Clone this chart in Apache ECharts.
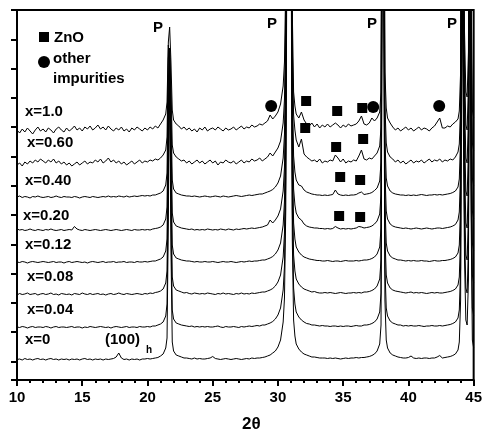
<!DOCTYPE html>
<html><head><meta charset="utf-8">
<script src="https://cdn.jsdelivr.net/npm/echarts@6/dist/echarts.min.js"></script>
<style>html,body{margin:0;padding:0;background:#fff}#c{width:485px;height:431px}</style>
</head><body><div id="c"></div>
<script>
// 2-theta sampling positions (degrees)
const twoTheta = [
 10.0,10.2,10.4,10.6,10.8,11.0,11.2,11.4,11.6,11.8,
 12.0,12.2,12.4,12.6,12.8,13.0,13.2,13.4,13.6,13.8,
 14.0,14.2,14.4,14.6,14.8,15.0,15.2,15.4,15.6,15.8,
 16.0,16.2,16.4,16.6,16.8,17.0,17.2,17.4,17.6,17.8,
 18.0,18.2,18.4,18.6,18.8,19.0,19.2,19.4,19.6,19.8,
 20.0,20.2,20.4,20.6,20.8,21.0,21.2,
 21.4,21.5,21.6,21.7,21.8,21.9,22.0,22.2,
 22.4,22.6,22.8,23.0,23.2,23.4,23.6,23.8,24.0,24.2,
 24.4,24.6,24.8,25.0,25.2,25.4,25.6,25.8,26.0,26.2,
 26.4,26.6,26.8,27.0,27.2,27.4,27.6,27.8,28.0,28.2,
 28.4,28.6,28.8,29.0,29.2,29.4,29.6,29.8,
 30.0,30.2,30.4,30.5,30.6,30.7,30.8,30.9,31.0,31.1,31.2,31.3,31.4,31.6,
 31.8,32.0,32.2,32.4,32.6,32.8,33.0,33.2,33.4,33.6,
 33.8,34.0,34.2,34.4,34.6,34.8,35.0,35.2,35.4,35.6,
 35.8,36.0,36.2,36.4,36.6,36.8,37.0,37.2,37.4,
 37.6,37.8,37.9,38.0,38.1,38.2,38.3,38.4,38.6,
 38.8,39.0,39.2,39.4,39.6,39.8,40.0,40.2,40.4,40.6,
 40.8,41.0,41.2,41.4,41.6,41.8,42.0,42.2,42.4,42.6,
 42.8,43.0,43.2,43.4,43.6,
 43.8,43.9,44.0,44.1,44.2,44.3,44.4,44.5,44.6,44.7,44.8,44.9,45.0
];

const traceNames = ['x=0','x=0.04','x=0.08','x=0.12','x=0.20','x=0.40','x=0.60','x=1.0'];
// vertical stacking offsets (a.u.)
const traceOffsets = [20,52,85,117,149,182,215,248];

const i_x0 = [
 0.5,1,0,1.5,0.5,1,0,1,1.5,0.5,
 1,0,1,1.5,0.5,1,0,1,0.5,1,
 0,1,0.5,1,0,1,1.5,0.5,1,0,
 1,0.5,1,0,1,0.5,1,1.5,3,7,
 2,0.5,1,0,1,0.5,1,0,1,1,
 1.5,1,1.5,2,2.5,4,6,
 12,22,140,300,110,18,9,5,
 4,3,2,2,1.5,1,2,1,1.5,1,
 1,1.5,2,3.5,1.5,1,0.5,1,1.5,1,
 0.5,1,1.5,1,0.5,1,1.5,1,2,1.5,
 2,2,2.5,3,4,5,7,9,
 13,20,38,62,150,450,600,600,450,120,40,24,16,11,
 8,6,5,4,3,3,2.5,2,2,2,
 1.5,2,1.5,2,1.5,1,1.5,2,1.5,2,
 2,2.5,2,2.5,2.5,3,3.5,4.5,6,
 9,16,35,450,400,60,20,12,7,
 5,4,3,2.5,2,2,2.5,4,2,1.5,
 2,1.5,2,2,1.5,2,2,3,4.5,2,
 2.5,3,3.5,4.5,6,
 10,18,60,400,400,100,40,35,80,500,150,20,12
];
const i_x004 = [
 1,0.5,1.5,1,0,1,1.5,0.5,1,1,
 0.5,1.5,1,0,1,1.5,0.5,1,1,0.5,
 1,1.5,0.5,1,1,0,1,0.5,1.5,1,
 0.5,1,1.5,1,0.5,1,0,1,1.5,1,
 0.5,1,1.5,0.5,1,1,0.5,1.5,1,1,
 1.5,1,2,2,3,4,6,
 12,24,150,270,110,18,9,5,
 4,3,2.5,2,1.5,2,1,1.5,1,1.5,
 1,1.5,1,1,1.5,2,1,0.5,1.5,1,
 1,1.5,1,0.5,1.5,1,1.5,2,1.5,2,
 2.5,2,3,3,4,5,6.5,9,
 13,20,38,62,150,450,600,600,450,120,40,24,16,11,
 8,6,4.5,4,3,3,2.5,2,2.5,2,
 2,1.5,2,2,1.5,2,1.5,2,2,1.5,
 2,2.5,2,2,3,3,3.5,4.5,6,
 9,16,35,450,400,60,20,12,7,
 5,4,3,3,2,2.5,2,2.5,2,2,
 2.5,2,1.5,2,2,2.5,2,2,2.5,2,
 2.5,3,3.5,4.5,6,
 10,18,60,400,400,100,40,35,80,500,150,20,12
];
const i_x008 = [
 0,1.5,0.5,1,2,0.5,1,1.5,0,1,
 1.5,0.5,1,2,0.5,1,0,1.5,1,0.5,
 1,0,1.5,1,0.5,2,1,0.5,1.5,0.5,
 1,1.5,0.5,1,0,1,1.5,0.5,1,2,
 1,0.5,1.5,1,0.5,1,1.5,1,0.5,1.5,
 1,2,1.5,2.5,3,4,6,
 12,24,150,240,110,18,9,5,
 4,3,2,2.5,1.5,1,2,1.5,1,1.5,
 1,2,1.5,1,0.5,1.5,1,2,1,1.5,
 1,0.5,1.5,1,2,1,1.5,1,2,1.5,
 2,2.5,3,3,4,5,6.5,9,
 13,20,38,62,150,450,600,600,450,120,40,24,16,11,
 8,6,5,4,3,3.5,2.5,2,2,2.5,
 2,2.5,2,1.5,2,2.5,2,1.5,2,2,
 2.5,2,2.5,2,3,3,3.5,4.5,6,
 9,16,35,450,400,60,20,12,7,
 5,4,3.5,3,2.5,2,2.5,3,2,2.5,
 2,2.5,2,1.5,2,2.5,2,2.5,2,2,
 2.5,3,3.5,4.5,6,
 10,18,60,400,400,100,40,35,80,500,150,20,12
];
const i_x012 = [
 1,0.5,1.5,1,0,1,1.5,1,0.5,1,
 1.5,1,0.5,1,1.5,0.5,1,1,0,1,
 1.5,0.5,1,1.5,1,0.5,1,0,1,1.5,
 1,0.5,1,1.5,0.5,1,1,1.5,0.5,1,
 1,1.5,0.5,1,1,0.5,1.5,1,1,1.5,
 1,1.5,2,2,3,4,6,
 12,24,150,210,110,18,9,5,
 4,3,2.5,2,2,1.5,1,1.5,1,1,
 1.5,1,1,1.5,1,0.5,1,1.5,1,1,
 1.5,1,0.5,1,1.5,1,1.5,2,1.5,2,
 2,2.5,3,3,4,5,6.5,9,
 13,20,38,62,150,450,600,600,450,120,40,24,16,11,
 8,6,5,4,3.5,3,2.5,2.5,2,2,
 2.5,2,1.5,2,2,1.5,2,2.5,2,2,
 2,2.5,2,2.5,3,3,3.5,4.5,6,
 9,16,35,450,400,60,20,12,7,
 5,4,3,3,2.5,2,2.5,2,2.5,2,
 2,2.5,2,2,1.5,2,2.5,2,2,2.5,
 2.5,3,3.5,4.5,6,
 10,18,60,400,400,100,40,35,80,500,150,20,12
];
const i_x020 = [
 2,1,1.5,0.5,1,2,1,0.5,1.5,1,
 0.5,1.5,1,2,1,0.5,1,1.5,0.5,1,
 1.5,1,4.5,2,1,0.5,1.5,1,0.5,1,
 1.5,1,0.5,1,1.5,1,0.5,1,1.5,1,
 0.5,1,1.5,1,0.5,1.5,1,1,1.5,1,
 1.5,1,2,2.5,3,4,6,
 12,24,150,180,100,18,9,5,
 4,3,2.5,2,1.5,2,1,1.5,1,1.5,
 1,2,1.5,1,1.5,1,2,1.5,1,2,
 1.5,1,2,1.5,2,2.5,2,2.5,3,2.5,
 3,3.5,4,5,6,11,8,11,
 15,22,40,64,150,450,600,600,450,120,42,26,18,13,
 11,7,5,4,3.5,3,3,2.5,2.5,2,
 2.5,2,2.5,4.5,3,2,2.5,2,2.5,2,
 2.5,3,4.5,4,3,3.5,4,5,7,
 10,17,36,450,400,60,20,12,7,
 5,4,3.5,3,2.5,3,2.5,2,2.5,3,
 2.5,2,2.5,3,2.5,2,2.5,3,3,2.5,
 3,3.5,4,5,6.5,
 11,19,60,400,400,100,40,35,80,500,150,20,12
];
const i_x040 = [
 1,2,0.5,1.5,1,0,1.5,1,2,1,
 0.5,1,1.5,0.5,1,2,1,0.5,1.5,1,
 1,0.5,1.5,1,0,1,1.5,1,0.5,1.5,
 1,0.5,1,1.5,1,2,1,1.5,1,2,
 1.5,1,2,1,1.5,2,1.5,2,2.5,2,
 2.5,2,3,3,4,5,7,
 13,25,140,150,90,18,9,5,
 4,3,2.5,2,2,1.5,2,1.5,1,1.5,
 2,1.5,1,1.5,2,1.5,1,2,1.5,1,
 1.5,2,2.5,2,1.5,2,2.5,3,2.5,3,
 3.5,4,4,5,6,7,8.5,11,
 15,22,40,64,150,450,600,600,450,120,42,26,18,13,
 12,8,6,5,4,3.5,3,3,2.5,3,
 2.5,3,3.5,8,4,3,2.5,3,2.5,3,
 3,3.5,5,6,3.5,4,4.5,5.5,7.5,
 10,17,36,450,400,60,20,12,7,
 5,4,3.5,3,3,2.5,3,2.5,3,2.5,
 3,3.5,3,2.5,3,3,3.5,3,3.5,3,
 3.5,4,4.5,5.5,7,
 11,19,60,400,400,100,40,35,80,500,150,20,12
];
const i_x060 = [
 0,2,-1,3,1,4,2,5,3,6,
 4,2,5,3,6,2,4,1,3,0,
 2,-1,1,3,0,2,4,1,3,2,
 5,3,6,2,4,7,3,5,2,4,
 1,3,0,2,4,1,3,5,2,4,
 3,5,4,6,5,7,10,
 15,28,120,120,80,20,12,8,
 6,4,5,2,4,1,3,5,2,4,
 1,3,5,2,4,0,3,2,5,3,
 2,4,1,3,5,2,4,3,6,4,
 5,7,4,6,8,12,9,13,
 17,24,42,66,150,450,600,600,450,120,50,35,25,18,
 26,11,8,6,4,5,3,6,2,4,
 3,5,4,10,7,3,6,2,4,3,
 5,4,9,15,6,5,7,6,9,
 12,19,38,450,400,60,22,13,8,
 6,3,5,2,4,1,3,5,2,4,
 3,5,2,4,6,3,5,4,6,3,
 5,4,6,5,8,
 13,21,60,400,400,100,40,35,80,500,150,22,14
];
const i_x100 = [
 2,-1,3,0,4,1,-2,2,5,1,
 3,0,4,2,-1,3,5,2,0,4,
 1,3,6,2,4,1,5,3,6,2,
 4,7,3,5,2,6,3,1,4,2,
 5,1,3,0,4,2,5,3,1,4,
 2,5,3,6,4,8,12,
 18,30,90,105,70,22,12,8,
 6,3,5,2,4,1,3,0,4,2,
 5,1,3,4,2,5,3,1,4,2,
 3,5,2,4,6,3,5,4,7,5,
 6,8,7,9,11,17,13,16,
 20,28,46,70,150,450,600,600,450,120,40,26,18,14,
 20,12,8,6,9,5,8,4,7,5,
 8,5,7,9,7,4,7,5,8,6,
 7,8,11,16,8,7,9,14,11,
 14,20,40,450,400,60,24,14,9,
 5,2,4,1,3,5,2,4,1,3,
 5,2,4,3,1,4,6,10,14,4,
 4,6,5,8,10,
 13,21,60,400,400,100,40,35,80,500,150,22,14
];
const traceIntensities = [i_x0,i_x004,i_x008,i_x012,i_x020,i_x040,i_x060,i_x100];

const xTickValues = [10,15,20,25,30,35,40,45];
// ZnO and other-impurity marker positions [2theta, stacked intensity]
const znoMarks = [[32.16,279],[32.09,252],[34.54,269],[36.46,272],[34.46,233],[36.53,241],[34.77,203],[36.30,200],[34.69,164],[36.30,163]];
const otherMarks = [[29.48,274],[37.30,273],[42.36,274]];

const FONT = '"Liberation Sans", Arial, sans-serif';
const series = traceIntensities.map((arr, k) => ({
  type: 'line', xAxisIndex: 0, yAxisIndex: 1, name: traceNames[k],
  showSymbol: false, symbol: 'none', clip: true, animation: false,
  lineStyle: {color: '#000', width: 1}, z: 2,
  data: twoTheta.map((t, i) => [t, traceOffsets[k] + arr[i]])
}));
series.push({type: 'scatter', xAxisIndex: 0, yAxisIndex: 1, symbol: 'rect', symbolSize: 10,
  itemStyle: {color: '#000', opacity: 1}, emphasis: {disabled: true}, data: znoMarks, z: 5, animation: false});
series.push({type: 'scatter', xAxisIndex: 0, yAxisIndex: 1, symbol: 'circle', symbolSize: 12,
  itemStyle: {color: '#000', opacity: 1}, emphasis: {disabled: true}, data: otherMarks, z: 5, animation: false});

const debug = [];
traceIntensities.forEach((a, k) => { if (a.length !== twoTheta.length) debug.push(traceNames[k] + ':' + a.length + '/' + twoTheta.length); });

function txt(x, y, s, size, extra) {
  return Object.assign({type: 'text', x: x, y: y, z: 10,
    style: {text: s, font: 'bold ' + size + 'px ' + FONT, fill: '#000',
      textVerticalAlign: 'middle', verticalAlign: 'middle', textAlign: 'left', align: 'left'}}, extra || {});
}
const labelPos = [[25,340],[27,310],[27,277],[25,245],[23,216],[25,181],[27,143],[25,112]];
const graphics = [
  {type: 'rect', shape: {x: 39, y: 32, width: 10, height: 10}, style: {fill: '#000'}, z: 10},
  {type: 'circle', shape: {cx: 44, cy: 62, r: 6}, style: {fill: '#000'}, z: 10},
  txt(54, 38, 'ZnO', 15),
  txt(53, 59, 'other', 15),
  txt(53, 79, 'impurities', 15),
  txt(153, 28, 'P', 15), txt(267, 24, 'P', 15), txt(367, 24, 'P', 15), txt(447, 24, 'P', 15),
  txt(105, 340, '(100)', 15), txt(146, 350, 'h', 10),
  txt(242, 424, '2\u03b8', 17)
];
traceNames.forEach((n, k) => graphics.push(txt(labelPos[k][0], labelPos[k][1], n, 15)));
if (debug.length) graphics.push(txt(150, 200, debug.join(' '), 14, {style: {text: debug.join(' '), fill: 'red', font: 'bold 14px sans-serif'}}));

const chart = echarts.init(document.getElementById('c'), null, {renderer: 'canvas'});
chart.setOption({
  animation: false,
  backgroundColor: '#fff',
  grid: {left: 17, right: 11, top: 10, bottom: 51, show: true, borderColor: '#000', borderWidth: 2, containLabel: false},
  xAxis: {type: 'value', min: 10, max: 45, interval: 5,
    axisLine: {show: true, onZero: false, lineStyle: {color: '#000', width: 2}},
    axisTick: {show: true, inside: false, length: 6, lineStyle: {color: '#000', width: 2}},
    minorTick: {show: true, splitNumber: 5, length: 3, lineStyle: {color: '#000', width: 2}},
    splitLine: {show: false}, minorSplitLine: {show: false},
    axisLabel: {color: '#000', fontFamily: FONT, fontWeight: 'bold', fontSize: 15, margin: 10,
      formatter: v => xTickValues.includes(v) ? String(v) : ''}},
  yAxis: [
    {type: 'value', inverse: true, min: 0, max: 12.63, interval: 1, position: 'left',
      axisLine: {show: true, lineStyle: {color: '#000', width: 2}},
      axisTick: {show: true, inside: false, length: 6, lineStyle: {color: '#000', width: 2}},
      axisLabel: {show: false}, splitLine: {show: false}},
    {type: 'value', min: 0, max: 370, show: false, splitLine: {show: false}}
  ],
  series: series,
  graphic: graphics
});
</script></body></html>
